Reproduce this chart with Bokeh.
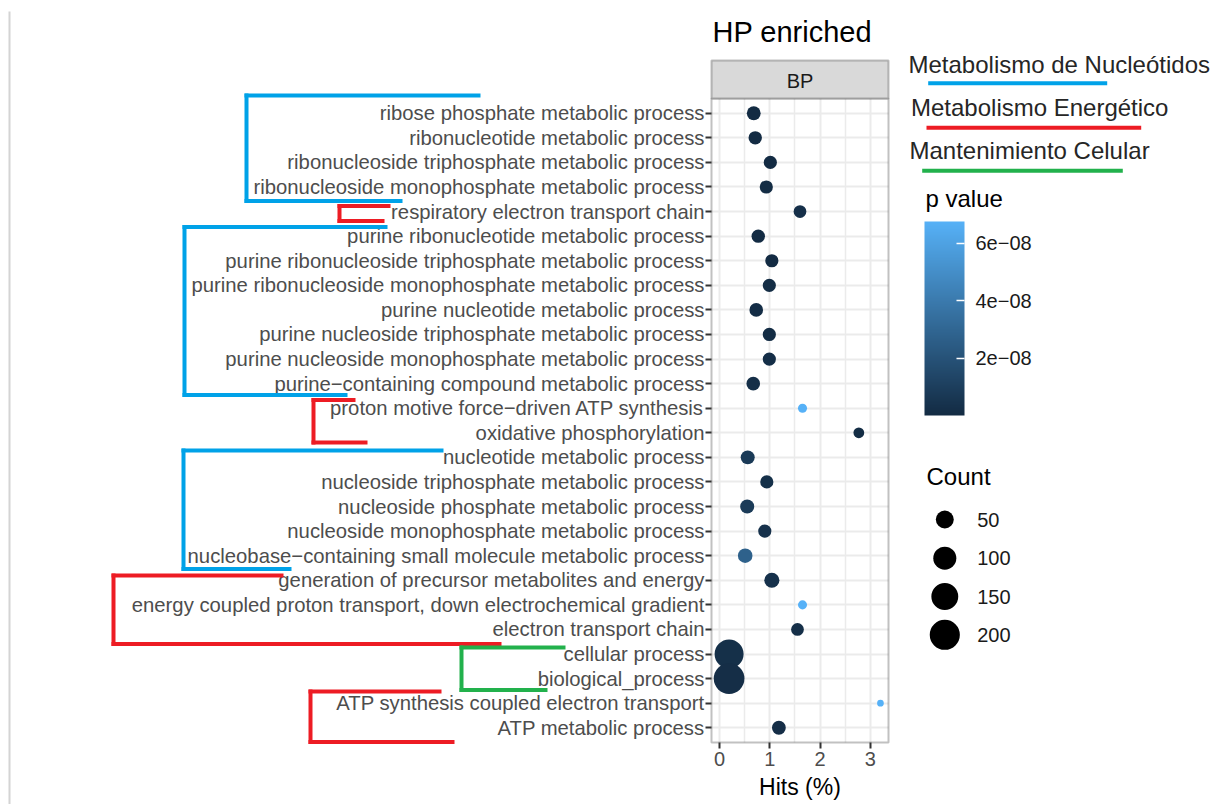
import math
from bokeh.plotting import figure
from bokeh.models import (Range1d, ColumnDataSource, LinearColorMapper, ColorBar,
                          FixedTicker, BoxAnnotation, Label, CustomJSTickFormatter)
from bokeh.transform import transform
from bokeh.embed import file_html
from bokeh.resources import INLINE
from bokeh.core.properties import value

# ---------------- data ----------------
terms = [
    "ribose phosphate metabolic process",
    "ribonucleotide metabolic process",
    "ribonucleoside triphosphate metabolic process",
    "ribonucleoside monophosphate metabolic process",
    "respiratory electron transport chain",
    "purine ribonucleotide metabolic process",
    "purine ribonucleoside triphosphate metabolic process",
    "purine ribonucleoside monophosphate metabolic process",
    "purine nucleotide metabolic process",
    "purine nucleoside triphosphate metabolic process",
    "purine nucleoside monophosphate metabolic process",
    "purine\u2212containing compound metabolic process",
    "proton motive force\u2212driven ATP synthesis",
    "oxidative phosphorylation",
    "nucleotide metabolic process",
    "nucleoside triphosphate metabolic process",
    "nucleoside phosphate metabolic process",
    "nucleoside monophosphate metabolic process",
    "nucleobase\u2212containing small molecule metabolic process",
    "generation of precursor metabolites and energy",
    "energy coupled proton transport, down electrochemical gradient",
    "electron transport chain",
    "cellular process",
    "biological_process",
    "ATP synthesis coupled electron transport",
    "ATP metabolic process",
]
hits = [0.68, 0.71, 1.01, 0.93, 1.60, 0.77, 1.04, 0.99, 0.73, 0.99, 0.99, 0.67, 1.65,
        2.77, 0.56, 0.94, 0.55, 0.90, 0.51, 1.04, 1.65, 1.55, 0.19, 0.19, 3.20, 1.18]
pvals = [1.5e-10, 1.0e-10, 2.1e-10, 1.1e-9, 2.4e-9, 3.0e-10, 2.1e-10, 1.1e-9, 1.3e-9,
         3.9e-10, 1.6e-9, 2.2e-9, 6.75e-8, 1.0e-9, 7.5e-9, 2.6e-9, 8.0e-9, 3.5e-9,
         2.7e-8, 3.1e-9, 6.75e-8, 2.0e-9, 2.5e-9, 1.8e-9, 6.75e-8, 1.9e-9]
counts = [23, 21, 20, 20, 18, 21, 20, 20, 22, 20, 20, 22, 7, 11, 24, 20, 24, 20, 27,
          30, 7, 18, 182, 210, 5, 23]

panel_label = "BP"
title_text = "HP enriched"
x_title = "Hits (%)"
x_ticks = [0, 1, 2, 3]
x_minor = [0.5, 1.5, 2.5]
p_ticks = [2e-8, 4e-8, 6e-8]
count_breaks = [50, 100, 150, 200]
group_names = ["Metabolismo de Nucleótidos", "Metabolismo Energético", "Mantenimiento Celular"]
group_colors = ["#00A2E8", "#ED1C24", "#22B14C"]

# ---------------- styles / mappings ----------------
FONT = "Liberation Sans"
W, H = 1221, 804
PANEL_L, PANEL_R, PANEL_T, PANEL_B = 711, 888, 98, 742   # panel box in page pixels
XLIM = (-0.16, 3.36)
n = len(terms)
YLIM = (0.4, n + 0.6)

D_MIN, D_MAX = 6.7, 30.7
cmin, cmax = min(counts), max(counts)


def diam(c):
    return D_MIN + (D_MAX - D_MIN) * math.sqrt((c - cmin) / (cmax - cmin))


def hex2rgb(h):
    h = h.lstrip("#")
    return [int(h[i:i + 2], 16) for i in (0, 2, 4)]


lo_c, hi_c = hex2rgb("#132B43"), hex2rgb("#56B1F7")
palette = []
for i in range(256):
    t = i / 255
    r, g, b = [round(lo_c[k] + (hi_c[k] - lo_c[k]) * t) for k in range(3)]
    palette.append("#%02x%02x%02x" % (r, g, b))

mapper = LinearColorMapper(palette=palette, low=min(pvals), high=max(pvals))

ypos = [n - i for i in range(n)]  # discrete positions, first term on top
src = ColumnDataSource(dict(term=terms, y=ypos, hits=hits, p=pvals, count=counts,
                            size=[diam(c) for c in counts]))

# data ranges extended so that the panel sits at its place on the whole canvas
sx = (PANEL_R - PANEL_L) / (XLIM[1] - XLIM[0])
sy = (PANEL_B - PANEL_T) / (YLIM[1] - YLIM[0])
xr = Range1d(XLIM[0] - PANEL_L / sx, XLIM[1] + (W - PANEL_R) / sx)
yr = Range1d(YLIM[0] - (H - PANEL_B) / sy, YLIM[1] + PANEL_T / sy)

p = figure(width=W, height=H, x_range=xr, y_range=yr, output_backend="svg",
           toolbar_location=None, min_border=0)
p.extra_x_ranges = {"px": Range1d(0, W)}
p.extra_y_ranges = {"px": Range1d(H, 0)}
p.background_fill_color = "white"
p.border_fill_color = "white"
p.outline_line_color = None

# axes at the panel edges
p.xaxis.fixed_location = YLIM[0]
p.yaxis.fixed_location = XLIM[0]
p.xaxis.bounds = XLIM
p.yaxis.bounds = YLIM
p.xaxis.ticker = FixedTicker(ticks=x_ticks, minor_ticks=x_minor)
p.yaxis.ticker = FixedTicker(ticks=ypos)
p.yaxis.major_label_overrides = {yv: t for yv, t in zip(ypos, terms)}
for ax in (p.xaxis, p.yaxis):
    ax.axis_line_color = None
    ax.major_tick_line_color = "#333333"
    ax.major_tick_line_width = 2
    ax.major_tick_out = 6
    ax.major_tick_in = 0
    ax.minor_tick_line_color = None
    ax.major_label_text_font = FONT
    ax.major_label_text_color = "#4D4D4D"
p.xaxis.major_label_text_font_size = "20px"
p.yaxis.major_label_text_font_size = "20.3px"
p.xaxis.major_label_standoff = 3
p.yaxis.major_label_standoff = 1
p.xaxis.axis_label = x_title
p.xaxis.axis_label_text_font = FONT
p.xaxis.axis_label_text_font_size = "23px"
p.xaxis.axis_label_text_font_style = "normal"
p.xaxis.axis_label_text_color = "black"
p.xaxis.axis_label_standoff = 5

# grid restricted to the panel
p.xgrid.bounds = XLIM
p.xgrid.cross_bounds = YLIM
p.ygrid.bounds = YLIM
p.ygrid.cross_bounds = XLIM
p.xgrid.grid_line_color = "#EBEBEB"
p.xgrid.grid_line_width = 2
p.xgrid.minor_grid_line_color = "#EBEBEB"
p.xgrid.minor_grid_line_width = 1.5
p.ygrid.grid_line_color = "#EBEBEB"
p.ygrid.grid_line_width = 2

# panel border
p.add_layout(BoxAnnotation(left=XLIM[0], right=XLIM[1], bottom=YLIM[0], top=YLIM[1],
                           fill_color=None, fill_alpha=0, line_color="#333333", line_width=2,
                           level="underlay"))

p.scatter(x="hits", y="y", size="size", source=src,
          fill_color=transform("p", mapper), line_color=None)

# strip
p.add_layout(BoxAnnotation(left=PANEL_L, right=PANEL_R, top=60, bottom=PANEL_T,
                           x_range_name="px", y_range_name="px",
                           fill_color="#D9D9D9", fill_alpha=1, line_color="#333333", line_width=2,
                           level="overlay"))
p.add_layout(Label(x=(PANEL_L + PANEL_R) / 2, y=80, text=panel_label, x_range_name="px", y_range_name="px",
                   text_align="center", text_baseline="middle", text_font=FONT,
                   text_font_size="20px", text_color="#1A1A1A", level="overlay"))
p.add_layout(Label(x=712, y=31, text=title_text, x_range_name="px", y_range_name="px",
                   text_align="left", text_baseline="middle", text_font=FONT,
                   text_font_size="29px", text_color="black"))

# screenshot edge line
p.add_layout(BoxAnnotation(left=8, right=10, top=11, bottom=H, x_range_name="px", y_range_name="px",
                           fill_color="#D4D4D4", fill_alpha=1, line_color=None))

# group brackets (color index, x_left, top_end, bottom_end, y_top, y_bottom)
brackets = [
    (0, 246, 480, 402, 95, 200.5),
    (1, 339, 390, 384, 205.5, 220.5),
    (0, 184, 387, 347, 226.5, 394.5),
    (1, 313, 355, 367, 399.5, 442),
    (0, 183, 443, 291, 450, 568.5),
    (1, 113, 283, 501, 575, 643.5),
    (2, 461, 565, 547, 647, 689.5),
    (1, 310, 441, 454, 691, 741.5),
]
hw = 2
for ci, xl, xt, xb, yt, yb in brackets:
    col = group_colors[ci]
    for (l, r, t, b) in [(xl - hw, xt, yt - hw, yt + hw),
                         (xl - hw, xl + hw, yt - hw, yb + hw),
                         (xl - hw, xb, yb - hw, yb + hw)]:
        p.add_layout(BoxAnnotation(left=l, right=r, top=t, bottom=b, x_range_name="px", y_range_name="px",
                                   fill_color=col, fill_alpha=1, line_color=None, level="overlay"))

# ---------------- legends ----------------
p.text(x=[908, 910.5, 909], y=[64, 107, 149.7], text=group_names,
       x_range_name="px", y_range_name="px",
       text_font=value(FONT), text_font_size="24px", text_color="#262626",
       text_baseline="middle", text_align="left")
p.segment(x0=[927.7, 926, 921.7], y0=[82.7, 127.3, 170.3], x1=[1106.7, 1140.7, 1122.3],
          y1=[82.7, 127.3, 170.3], line_color=group_colors, line_width=4,
          x_range_name="px", y_range_name="px")

CB_LEFT, CB_BOTTOM, CB_W, CB_H = 924, 415, 40, 194
p.text(x=[925], y=[198], text=["p value"], x_range_name="px", y_range_name="px",
       text_font=value(FONT), text_font_size="24px", text_color="black", text_baseline="middle")
cb = ColorBar(color_mapper=mapper, location=(CB_LEFT, H - CB_BOTTOM), orientation="vertical",
              width=CB_W, height=CB_H, padding=0, title=None,
              ticker=FixedTicker(ticks=p_ticks),
              formatter=CustomJSTickFormatter(code="return tick.toExponential(0).replace('e-', 'e\u22120');"),
              major_label_text_font=FONT, major_label_text_font_size="20px",
              major_label_text_color="#1A1A1A", label_standoff=11,
              major_tick_line_color="white", major_tick_line_width=1.5, major_tick_in=8, major_tick_out=0,
              minor_tick_line_color=None, bar_line_color=None, border_line_color=None,
              background_fill_color=None)
p.add_layout(cb)

p.text(x=[926], y=[475.7], text=["Count"], x_range_name="px", y_range_name="px",
       text_font=value(FONT), text_font_size="24px", text_color="black", text_baseline="middle")
leg_y = [519, 557.7, 596, 634.3]
p.scatter(x=[944.3] * 4, y=leg_y, size=[diam(c) for c in count_breaks],
          fill_color="black", line_color=None, x_range_name="px", y_range_name="px")
p.text(x=[976.7] * 4, y=leg_y, text=[str(c) for c in count_breaks], x_range_name="px", y_range_name="px",
       text_font=value(FONT), text_font_size="20px", text_color="#1A1A1A", text_baseline="middle")

open("out.html", "w").write(file_html(p, INLINE))
